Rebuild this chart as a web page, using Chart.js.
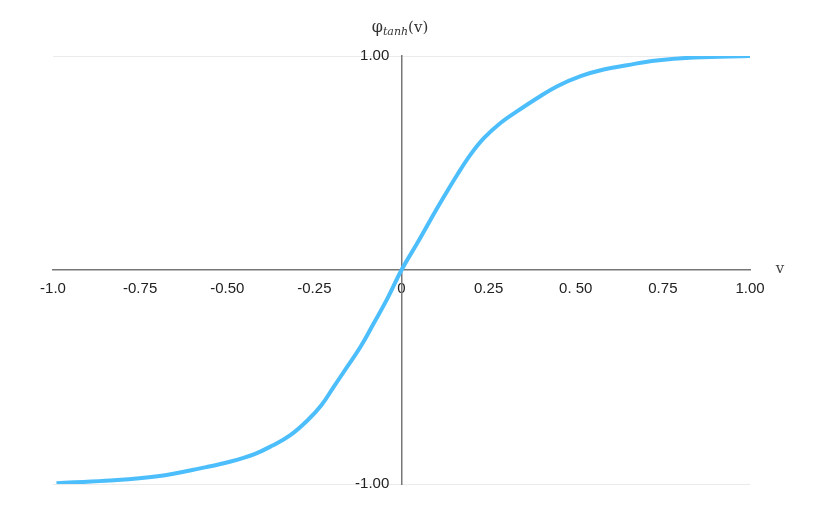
<!DOCTYPE html>
<html>
<head>
<meta charset="utf-8">
<title>tanh activation</title>
<script src="https://cdn.jsdelivr.net/npm/chart.js@4"></script>
<style>
  body { margin: 0; background: #fff; }
  canvas { display: block; }
</style>
</head>
<body>
<canvas id="tanhChart" width="837" height="512"></canvas>
<script>
// Values
const vValues = [-0.99, -0.85, -0.70, -0.56, -0.49, -0.42, -0.37, -0.32, -0.27, -0.23, -0.195, -0.156, -0.118, -0.08, -0.041,
  0, 0.045, 0.083, 0.122, 0.16, 0.198, 0.237, 0.284, 0.332, 0.39, 0.447, 0.514, 0.58, 0.647, 0.725, 0.84, 1.0];
const phiValues = [-0.996, -0.985, -0.964, -0.921, -0.895, -0.859, -0.82, -0.773, -0.703, -0.632, -0.547, -0.453, -0.36, -0.25, -0.135,
  0, 0.125, 0.234, 0.343, 0.445, 0.539, 0.617, 0.687, 0.742, 0.804, 0.859, 0.906, 0.937, 0.957, 0.978, 0.993, 1.0];

// Axis ticks
const xTickValues = [-1, -0.75, -0.5, -0.25, 0, 0.25, 0.5, 0.75, 1];
const xTickLabels = ["-1.0", "-0.75", "-0.50", "-0.25", "0", "0.25", "0. 50", "0.75", "1.00"];
const yTickValues = [-1, 1];
const yTickLabels = ["-1.00", "1.00"];

const points = vValues.map(function (v, i) {
  return { x: v, y: phiValues[i] };
});

// Title and axis name, drawn on top of the chart
const labelsPlugin = {
  id: "labels",
  afterDraw: function (chart) {
    const ctx = chart.ctx;
    ctx.save();
    ctx.fillStyle = "#333";
    ctx.textBaseline = "alphabetic";

    const parts = [
      { text: "φ", font: "16px 'DejaVu Serif'", dy: 0 },
      { text: "tanh", font: "italic 11px 'DejaVu Serif'", dy: 3 },
      { text: "(v)", font: "15px 'DejaVu Serif'", dy: 0 }
    ];
    let total = 0;
    parts.forEach(function (p) {
      ctx.font = p.font;
      p.w = ctx.measureText(p.text).width;
      total += p.w;
    });
    let x = 400 - total / 2;
    parts.forEach(function (p) {
      ctx.font = p.font;
      ctx.fillText(p.text, x, 32 + p.dy);
      x += p.w;
    });

    ctx.font = "15px 'DejaVu Serif'";
    ctx.fillStyle = "#444";
    ctx.textAlign = "center";
    ctx.fillText("v", 780, 273);
    ctx.restore();
  }
};

const tickFont = { family: "'Liberation Sans', Arial", size: 15 };

new Chart(document.getElementById("tanhChart"), {
  type: "line",
  data: {
    datasets: [
      {
        data: points,
        borderColor: "#4cbefb",
        borderWidth: 4,
        pointRadius: 0,
        tension: 0.4,
        fill: false
      }
    ]
  },
  options: {
    responsive: false,
    animation: false,
    layout: {
      padding: { left: 53, right: 87, top: 56, bottom: 28 }
    },
    plugins: {
      legend: { display: false },
      tooltip: { enabled: false }
    },
    scales: {
      x: {
        type: "linear",
        min: -1,
        max: 1,
        position: { y: 0 },
        afterFit: function (scale) { scale.height = 0; },
        afterBuildTicks: function (scale) {
          scale.ticks = xTickValues.map(function (v) { return { value: v }; });
        },
        grid: { display: false, drawTicks: false },
        border: { display: true, color: "#777", width: 1.5 },
        ticks: {
          padding: 10,
          color: "#222",
          font: tickFont,
          maxRotation: 0,
          autoSkip: false,
          callback: function (value, index) { return xTickLabels[index]; }
        }
      },
      y: {
        type: "linear",
        min: -1,
        max: 1,
        position: { x: 0 },
        afterFit: function (scale) { scale.width = 0; },
        afterBuildTicks: function (scale) {
          scale.ticks = yTickValues.map(function (v) { return { value: v }; });
        },
        grid: { color: "#ebebeb", lineWidth: 1, drawTicks: false },
        border: { display: true, color: "#777", width: 1.5 },
        ticks: { display: false }
      },
      // label-only axis, set just left of the vertical axis line
      yLabels: {
        type: "linear",
        min: -1,
        max: 1,
        position: { x: -0.035 },
        afterFit: function (scale) { scale.width = 0; },
        afterBuildTicks: function (scale) {
          scale.ticks = yTickValues.map(function (v) { return { value: v }; });
        },
        grid: { display: false, drawTicks: false },
        border: { display: false },
        ticks: {
          color: "#222",
          font: tickFont,
          callback: function (value, index) { return yTickLabels[index]; }
        }
      }
    }
  },
  plugins: [labelsPlugin]
});
</script>
</body>
</html>
